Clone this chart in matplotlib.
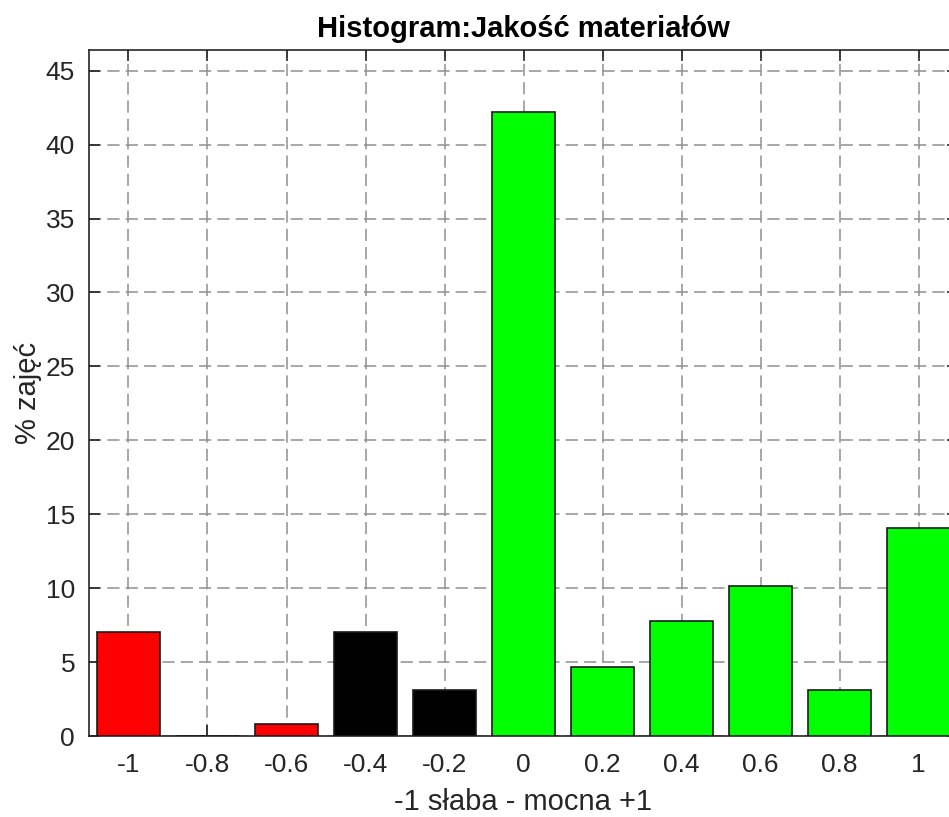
import numpy as np
import matplotlib
matplotlib.use("Agg")
import matplotlib.pyplot as plt

# histogram bins (-1 weak ... +1 strong) and share of classes in percent
bins = [-1, -0.8, -0.6, -0.4, -0.2, 0, 0.2, 0.4, 0.6, 0.8, 1]
percent = [7.03, 0.0, 0.78, 7.03, 3.13, 42.19, 4.69, 7.81, 10.16, 3.13, 14.06]
colors = ["#ff0000"] * 3 + ["#000000"] * 2 + ["#00ff00"] * 6
tick_labels = ["-1", "-0.8", "-0.6", "-0.4", "-0.2", "0", "0.2", "0.4", "0.6", "0.8", "1"]

plt.rcParams["font.family"] = ["Liberation Sans", "DejaVu Sans"]
W, H = 949, 817
fig = plt.figure(figsize=(W / 100, H / 100), dpi=100)
# the axes run slightly past the right edge of the figure (cropped, as in the original)
x0, x1, y0, y1 = 89, 958, 50, 736
ax = fig.add_axes([x0 / W, 1 - y1 / H, (x1 - x0) / W, (y1 - y0) / H])

ax.bar(bins, percent, width=0.16, color=colors, edgecolor="#1a1a1a", linewidth=1.2, zorder=3)

ax.set_xlim(-1.1, 1.1)
ax.set_ylim(0, 46.4)
ax.set_xticks(bins)
ax.set_xticklabels(tick_labels)
ax.set_yticks(np.arange(0, 46, 5))

grey = "#262626"
ax.grid(True, color="#8f8f8f", ls=(0, (8, 4)), lw=1.1, zorder=0)
ax.set_axisbelow(True)
ax.tick_params(direction="in", length=8, width=1.2, top=True, right=True,
               labelsize=19, colors=grey, pad=12)
ax.tick_params(axis="y", pad=10)
for s in ax.spines.values():
    s.set_color(grey)
    s.set_linewidth(1.2)

ax.set_title("Histogram:Jakość materiałów", fontsize=21, fontweight="bold", pad=9)
ax.set_xlabel("-1 słaba - mocna +1", fontsize=21, color=grey, labelpad=8)
ax.set_ylabel("% zajęć", fontsize=21, color=grey, labelpad=3)

fig.savefig("out.png", dpi=100)
